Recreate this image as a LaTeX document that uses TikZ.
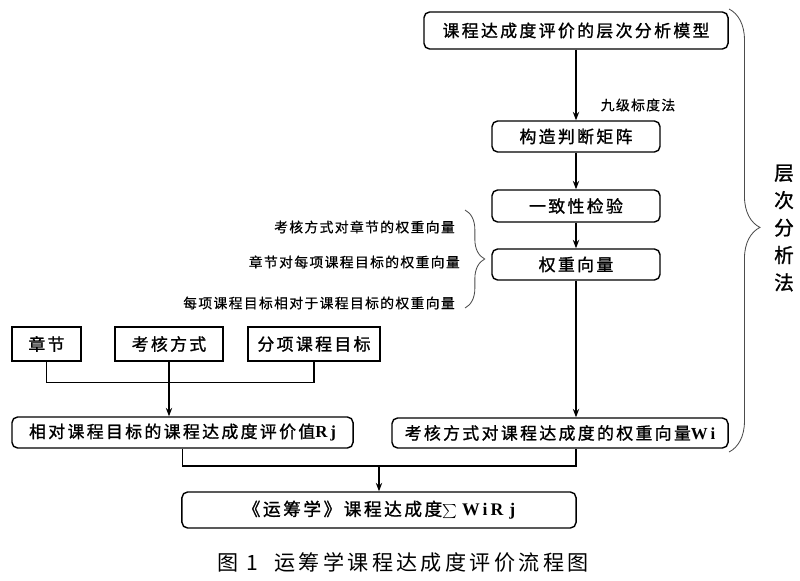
\documentclass[tikz,border=0pt]{standalone}
\usepackage{fontspec}
\setmainfont{Liberation Serif}
\newfontfamily\cjk[LetterSpace=14, FakeBold=1.2]{Noto Sans CJK SC}
\newfontfamily\cjknote[LetterSpace=10, FakeBold=0.6]{Noto Sans CJK SC}
\newfontfamily\cjkcap[LetterSpace=16]{Noto Sans CJK SC}
\usetikzlibrary{positioning,arrows.meta,decorations.pathreplacing}

\begin{document}
\begin{tikzpicture}[x=0.025cm, y=-0.025cm, >={Stealth[length=6pt,width=4.5pt]},
    every node/.style={font=\cjk\fontsize{12}{14}\selectfont, inner sep=0pt},
    box/.style={draw, line width=1pt, rounded corners=4pt},
    sqbox/.style={draw, line width=1pt},
    note/.style={font=\cjknote\fontsize{9.8}{11}\selectfont},
    link/.style={line width=0.9pt}]
  \useasboundingbox (0,0) rectangle (800,580);
  % right column: AHP steps
  \node[box, minimum width=7.6cm, minimum height=0.925cm] (ahp) at (576,30.5) {课程达成度评价的层次分析模型};
  \node[box, minimum width=4.2cm, minimum height=0.775cm] (judge) at (576,136.5) {构造判断矩阵};
  \node[box, minimum width=4.2cm, minimum height=0.8cm] (check) at (576,206) {一致性检验};
  \node[box, minimum width=4.2cm, minimum height=0.775cm] (weight) at (576,264.5) {权重向量};
  \node[box, minimum width=8.4cm, minimum height=0.75cm] (wvec) at (560,433) {考核方式对课程达成度的权重向量{\rmfamily\bfseries W\,i}};
  % left column: inputs
  \node[sqbox, minimum width=1.725cm, minimum height=0.85cm] (chap) at (46.5,344) {章节};
  \node[sqbox, minimum width=2.7cm, minimum height=0.85cm] (exam) at (169,344) {考核方式};
  \node[sqbox, minimum width=3.3cm, minimum height=0.85cm] (goal) at (314,344) {分项课程目标};
  \node[box, minimum width=8.525cm, minimum height=0.775cm] (rvec) at (182.5,432.5) {相对课程目标的课程达成度评价值{\rmfamily\bfseries R\,j}};
  \node[box, minimum width=9.85cm, minimum height=0.9cm, font=\cjk\fontsize{12.6}{14}\selectfont] (total) at (379,510) {《运筹学》课程达成度{\large$\sum$}\;{\rmfamily\bfseries W\,i\,R\,\,j}};
  % notes
  \node[note] (scale) at (638,105) {九级标度法};
  \node[note, anchor=east] (lab1) at (455,227) {考核方式对章节的权重向量};
  \node[note, anchor=east] (lab2) at (460,262) {章节对每项课程目标的权重向量};
  \node[note, anchor=east] (lab3) at (455,303) {每项课程目标相对于课程目标的权重向量};
  \node[align=center, font=\cjk\fontsize{14}{19.5}\selectfont] (ahpname) at (784,228) {层\\次\\分\\析\\法};
  \node[font=\cjkcap\fontsize{15}{16}\selectfont] (cap) at (403,562) {图~1~~运筹学课程达成度评价流程图};
  % braces
  \coordinate (bl1) at (465,210);
  \coordinate (bl2) at (465,308);
  \coordinate (br1) at (729,9);
  \coordinate (br2) at (729,452);
  \draw[black!70, line width=0.6pt, decorate, decoration={brace, amplitude=14pt}] (bl1) -- (bl2);
  \draw[black!70, line width=0.6pt, decorate, decoration={brace, amplitude=22pt, aspect=0.493}] (br1) -- (br2);
  % arrows
  \draw[link, ->] (ahp) -- (judge);
  \draw[link, ->] (judge) -- (check);
  \draw[link, ->] (check) -- (weight);
  \draw[link, ->] (weight.south) -- (weight.south |- wvec.north);
  \draw[link] (chap.south) -- ++(0,21) -| (goal.south);
  \draw[link, ->] (exam.south) -- (exam.south |- rvec.north);
  \coordinate (merge) at (379,466);
  \draw[link] (rvec.south) |- (merge) -| (wvec.south -| weight.south);
  \draw[link, ->] (merge) -- (total);
\end{tikzpicture}
\end{document}
